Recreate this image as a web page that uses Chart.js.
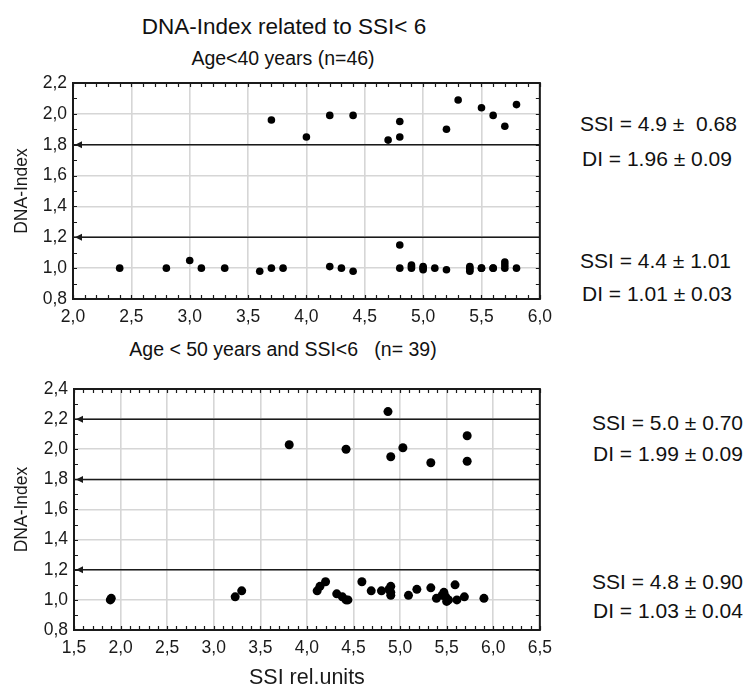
<!DOCTYPE html>
<html>
<head>
<meta charset="utf-8">
<script src="https://cdn.jsdelivr.net/npm/chart.js@4/dist/chart.umd.min.js"></script>
<style>
  html, body { margin:0; padding:0; background:#fff; }
  body { width:744px; height:691px; position:relative; overflow:hidden;
         font-family:"Liberation Sans", Arial, sans-serif; color:#111; }
  .t { position:absolute; white-space:pre; line-height:1; }
  .c { transform:translate(-50%,-50%); }
  .l { transform:translate(0,-50%); }
  canvas { position:absolute; left:0; }
</style>
</head>
<body>
<div class="t c" style="left:284px;top:27px;font-size:22.5px;">DNA-Index related to SSI&lt; 6</div>
<div class="t c" style="left:283px;top:59px;font-size:19.5px;">Age&lt;40 years (n=46)</div>
<div class="t c" style="left:283px;top:350px;font-size:19.5px;">Age &lt; 50 years and SSI&lt;6   (n= 39)</div>

<div class="t l" style="left:580px;top:123px;font-size:21px;">SSI = 4.9 ±  0.68</div>
<div class="t l" style="left:582px;top:158px;font-size:21px;">DI = 1.96 ± 0.09</div>
<div class="t l" style="left:580px;top:260px;font-size:21px;">SSI = 4.4 ± 1.01</div>
<div class="t l" style="left:582px;top:293px;font-size:21px;">DI = 1.01 ± 0.03</div>

<div class="t l" style="left:592px;top:422px;font-size:21px;">SSI = 5.0 ± 0.70</div>
<div class="t l" style="left:593px;top:453px;font-size:21px;">DI = 1.99 ± 0.09</div>
<div class="t l" style="left:592px;top:581px;font-size:21px;">SSI = 4.8 ± 0.90</div>
<div class="t l" style="left:593px;top:610px;font-size:21px;">DI = 1.03 ± 0.04</div>

<canvas id="c1" width="560" height="335" style="top:0;"></canvas>
<canvas id="c2" width="560" height="356" style="top:335px;"></canvas>

<script>
// ---------- Data: top chart (Age<40 years, n=46) ----------
const topHighSSI = [3.7, 4.0, 4.2, 4.4, 4.7, 4.8, 4.8, 5.2, 5.3, 5.5, 5.6, 5.7, 5.8];
const topHighDI  = [1.96,1.85,1.99,1.99,1.83,1.95,1.85,1.90,2.09,2.04,1.99,1.92,2.06];
const topLowSSI  = [2.4, 2.8, 3.0, 3.1, 3.3, 3.6, 3.7, 3.8, 4.2, 4.3, 4.4, 4.8, 4.8, 4.9, 4.9,
                    5.0, 5.0, 5.0, 5.1, 5.2, 5.4, 5.4, 5.4, 5.4, 5.5, 5.5, 5.6, 5.6, 5.7, 5.7, 5.7, 5.8, 4.9];
const topLowDI   = [1.00,1.00,1.05,1.00,1.00,0.98,1.00,1.00,1.01,1.00,0.98,1.15,1.00,1.01,1.02,
                    1.00,1.01,0.99,1.00,0.99,1.00,1.01,0.99,0.98,1.00,1.00,1.00,1.00,1.04,1.00,1.02,1.00,1.00];
const topRefLines = [1.8, 1.2];
const topXTicks = [2.0, 2.5, 3.0, 3.5, 4.0, 4.5, 5.0, 5.5, 6.0];
const topXLabels = ['2,0','2,5','3,0','3,5','4,0','4,5','5,0','5,5','6,0'];
const topYTicks = [0.8, 1.0, 1.2, 1.4, 1.6, 1.8, 2.0, 2.2];
const topYLabels = ['0,8','1,0','1,2','1,4','1,6','1,8','2,0','2,2'];

// ---------- Data: bottom chart (Age<50 years and SSI<6, n=39) ----------
const botHighSSI = [3.81, 4.42, 4.87, 4.90, 5.03, 5.33, 5.72, 5.72];
const botHighDI  = [2.03, 2.00, 2.25, 1.95, 2.01, 1.91, 2.09, 1.92];
const botLowSSI  = [1.89, 1.90, 3.23, 3.30, 4.11, 4.14, 4.20, 4.32, 4.38, 4.42, 4.44, 4.59, 4.69, 4.80,
                    4.88, 4.90, 4.90, 4.90, 5.09, 5.18, 5.33, 5.39, 5.45, 5.47, 5.49, 5.50, 5.52,
                    5.59, 5.61, 5.69, 5.90];
const botLowDI   = [1.00, 1.01, 1.02, 1.06, 1.06, 1.09, 1.12, 1.04, 1.02, 1.00, 1.00, 1.12, 1.06, 1.06,
                    1.07, 1.09, 1.05, 1.03, 1.03, 1.07, 1.08, 1.01, 1.03, 1.05, 1.02, 0.99, 1.00,
                    1.10, 1.00, 1.02, 1.01];
const botRefLines = [2.2, 1.8, 1.2];
const botXTicks = [1.5, 2.0, 2.5, 3.0, 3.5, 4.0, 4.5, 5.0, 5.5, 6.0, 6.5];
const botXLabels = ['1,5','2,0','2,5','3,0','3,5','4,0','4,5','5,0','5,5','6,0','6,5'];
const botYTicks = [0.8, 1.0, 1.2, 1.4, 1.6, 1.8, 2.0, 2.2, 2.4];
const botYLabels = ['0,8','1,0','1,2','1,4','1,6','1,8','2,0','2,2','2,4'];

const FONT = '"Liberation Sans", Arial, sans-serif';
const INK = '#1a1a1a';

const framePlugin = {
  id: 'frame',
  afterDatasetsDraw(chart, args, opts) {
    const ctx = chart.ctx, a = chart.chartArea;
    const xs = chart.scales.x, ys = chart.scales.y;
    ctx.save();
    // arrowheads at the start of reference lines
    chart.data.datasets.forEach((ds, i) => {
      if (!ds.arrow) return;
      const p = chart.getDatasetMeta(i).data[0];
      ctx.fillStyle = INK;
      ctx.beginPath();
      ctx.moveTo(p.x + 2, p.y);
      ctx.lineTo(p.x + 9, p.y - 3.5);
      ctx.lineTo(p.x + 9, p.y + 3.5);
      ctx.closePath();
      ctx.fill();
    });
    // minor ticks pointing inward
    ctx.strokeStyle = INK;
    ctx.lineWidth = 1.2;
    const L = 4;
    const nx = Math.round((xs.max - xs.min) / opts.minorX);
    for (let k = 0; k <= nx; k++) {
      const px = Math.round(xs.getPixelForValue(xs.min + k * opts.minorX)) + 0.5;
      ctx.beginPath();
      ctx.moveTo(px, a.top); ctx.lineTo(px, a.top + L);
      ctx.moveTo(px, a.bottom); ctx.lineTo(px, a.bottom - L);
      ctx.stroke();
    }
    const ny = Math.round((ys.max - ys.min) / opts.minorY);
    for (let k = 0; k <= ny; k++) {
      const py = Math.round(ys.getPixelForValue(ys.min + k * opts.minorY)) + 0.5;
      ctx.beginPath();
      ctx.moveTo(a.left, py); ctx.lineTo(a.left + L, py);
      ctx.moveTo(a.right, py); ctx.lineTo(a.right - L, py);
      ctx.stroke();
    }
    // frame
    ctx.lineWidth = 2;
    ctx.strokeRect(a.left, a.top, a.right - a.left, a.bottom - a.top);
    ctx.restore();
  }
};

function pts(xs, ys) { return xs.map((x, i) => ({ x, y: ys[i] })); }

function makeChart(id, cfg) {
  const datasets = [];
  cfg.refLines.forEach(v => datasets.push({
    type: 'line', data: [{ x: cfg.xMin, y: v }, { x: cfg.xMax, y: v }],
    borderColor: INK, borderWidth: 1.5, pointRadius: 0, arrow: true, order: 2
  }));
  cfg.groups.forEach(g => datasets.push({
    type: 'scatter', data: pts(g[0], g[1]),
    backgroundColor: '#000', borderColor: '#000', pointRadius: cfg.r, pointHoverRadius: cfg.r,
    borderWidth: 0, order: 1
  }));
  return new Chart(document.getElementById(id), {
    type: 'scatter',
    data: { datasets },
    options: {
      responsive: false, animation: false, events: [],
      layout: { padding: cfg.pad },
      plugins: { legend: { display: false }, tooltip: { enabled: false },
                 frame: { minorX: 0.1, minorY: 0.1 } },
      scales: {
        x: {
          type: 'linear', min: cfg.xMin, max: cfg.xMax,
          afterBuildTicks: s => { s.ticks = cfg.xTicks.map(v => ({ value: v })); },
          afterFit: s => { s.height = cfg.xH; },
          ticks: { callback: (v, i) => cfg.xLabels[i], color: INK, padding: 8,
                   font: { family: FONT, size: 17.5 }, maxRotation: 0, autoSkip: false },
          grid: { color: '#d6d6d6', lineWidth: 1.6, drawTicks: false },
          border: { display: false },
          title: cfg.xTitle ? { display: true, text: cfg.xTitle, color: INK,
                   font: { family: FONT, size: 21.5 }, padding: { top: 8, bottom: 0 } } : { display: false }
        },
        y: {
          type: 'linear', min: cfg.yMin, max: cfg.yMax,
          afterBuildTicks: s => { s.ticks = cfg.yTicks.map(v => ({ value: v })); },
          afterFit: s => { s.width = cfg.yW; },
          ticks: { callback: (v, i) => cfg.yLabels[i], color: INK, padding: 6,
                   font: { family: FONT, size: 17.5 }, autoSkip: false },
          grid: { color: '#d6d6d6', lineWidth: 1.6, drawTicks: false },
          border: { display: false },
          title: { display: true, text: 'DNA-Index', color: INK,
                   font: { family: FONT, size: 17.5 }, padding: { top: 0, bottom: 0 } }
        }
      }
    },
    plugins: [framePlugin]
  });
}

makeChart('c1', {
  xMin: 2.0, xMax: 6.0, yMin: 0.8, yMax: 2.2,
  xTicks: topXTicks, xLabels: topXLabels, yTicks: topYTicks, yLabels: topYLabels,
  refLines: topRefLines, groups: [[topHighSSI, topHighDI], [topLowSSI, topLowDI]],
  r: 3.8, pad: { left: 12, top: 83, right: 13, bottom: 0 }, yW: 61, xH: 36, xTitle: null
});

makeChart('c2', {
  xMin: 1.5, xMax: 6.5, yMin: 0.8, yMax: 2.4,
  xTicks: botXTicks, xLabels: botXLabels, yTicks: botYTicks, yLabels: botYLabels,
  refLines: botRefLines, groups: [[botHighSSI, botHighDI], [botLowSSI, botLowDI]],
  r: 4.5, pad: { left: 12, top: 54, right: 8, bottom: 0 }, yW: 62, xH: 61, xTitle: 'SSI rel.units'
});
</script>
</body>
</html>
